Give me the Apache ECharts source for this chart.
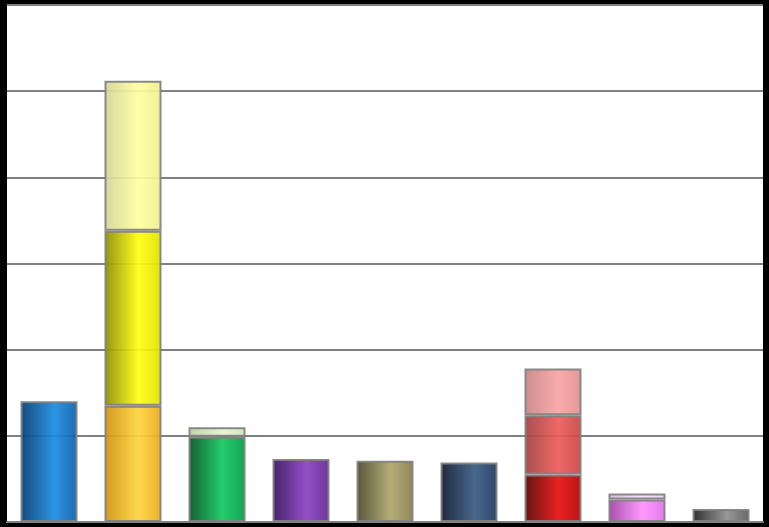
<!DOCTYPE html>
<html>
<head>
<meta charset="utf-8">
<script src="https://cdn.jsdelivr.net/npm/echarts@6/dist/echarts.min.js"></script>
<style>
html,body{margin:0;padding:0;background:#000;}
#c{width:769px;height:527px;}
</style>
</head>
<body>
<div id="c"></div>
<script>
// Data
var categories = ['A','B','C','D','E','F','G','H','I'];
var layer1 = [14, 13.5, 9.9, 7.3, 7.1, 6.9, 5.5, 2.6, 1.5];
var layer2 = [null, 20.3, 1.1, null, null, null, 6.9, 0.7, null];
var layer3 = [null, 17.4, null, null, null, null, 5.4, null, null];
var yTicks = [0, 10, 20, 30, 40, 50, 60];

// Styles (gradient stops: left, highlight, right)
var c1 = [['#003a74','#1a8ce0','#0a5eac'],['#d0900c','#ffd540','#eaa818'],['#00501f','#10c85e','#009a46'],
          ['#38105e','#8a40c2','#632692'],['#4a4628','#aea66c','#857c4a'],['#0c182c','#3a5a82','#1c365e'],
          ['#5a0000','#e80e0e','#b00000'],['#a040a8','#ff90ff','#e070e8'],['#1e1e1e','#8e8e8e','#5a5a5a']];
var c2 = [null,['#8a8a00','#ffff10','#e0e000'],['#b8d0a0','#e4f4d0','#cfe4b8'],null,null,null,
          ['#a04040','#ee5a5a','#c84444'],['#d8b8e0','#f8e4fa','#e8cef0'],null];
var c3 = [null,['#d4d49a','#ffffa0','#eeee8c'],null,null,null,null,
          ['#c88484','#f8a4a4','#e09090'],null,null];

function grad(s){
  return {type:'linear',x:0,y:0,x2:1,y2:0,colorStops:[
    {offset:0,color:s[0]},{offset:0.6,color:s[1]},{offset:1,color:s[2]}]};
}
function mk(vals, cols){
  return vals.map(function(v,i){
    if(v===null) return '-';
    return {value:v,itemStyle:{color:grad(cols[i])}};
  });
}
var common = {type:'bar',stack:'s',barWidth:57,
  itemStyle:{borderColor:'#808080',borderWidth:2,opacity:0.92},
  emphasis:{disabled:true}};

var chart = echarts.init(document.getElementById('c'));
chart.setOption({
  backgroundColor:'#000',
  animation:false,
  grid:{left:7,right:6,top:5,bottom:5,show:true,backgroundColor:'#fff',borderWidth:0},
  xAxis:{type:'category',data:categories,
    axisLine:{show:true,lineStyle:{color:'#808080',width:2}},
    axisTick:{show:false},axisLabel:{show:false}},
  yAxis:{type:'value',min:yTicks[0],max:yTicks[yTicks.length-1],interval:yTicks[1]-yTicks[0],
    axisLine:{show:false},axisTick:{show:false},axisLabel:{show:false},
    splitLine:{show:true,lineStyle:{color:'#808080',width:2}}},
  series:[
    Object.assign({},common,{data:mk(layer1,c1)}),
    Object.assign({},common,{data:mk(layer2,c2)}),
    Object.assign({},common,{data:mk(layer3,c3)})
  ]
});
</script>
</body>
</html>
